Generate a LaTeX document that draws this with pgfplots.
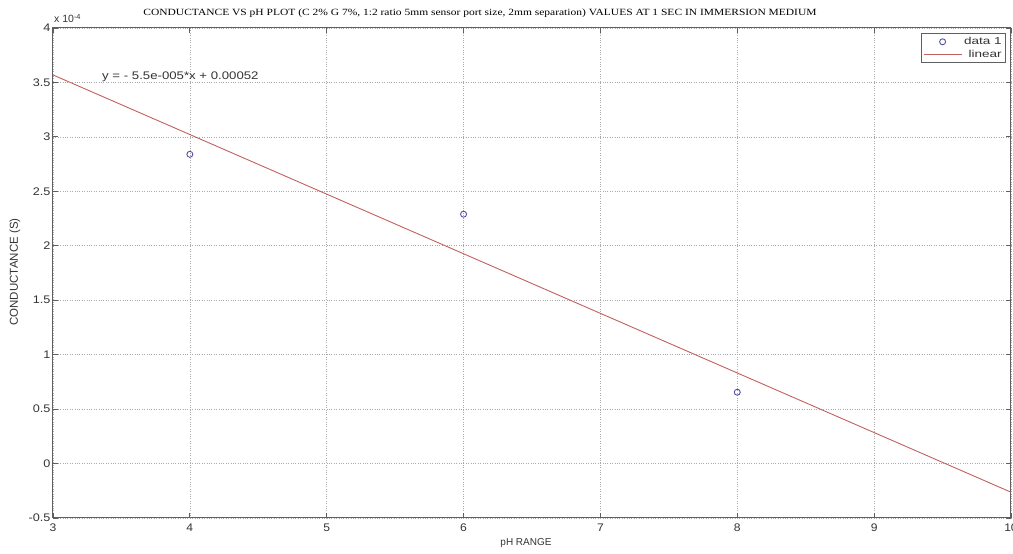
\documentclass[border=0pt]{standalone}
\usepackage{pgfplots}
\pgfplotsset{compat=1.18}
\usepackage{graphicx}
\usepackage{fontspec}
\setmainfont{Liberation Sans}
\newfontfamily\titlefont{Liberation Serif}
\definecolor{axgray}{RGB}{95,95,95}
\definecolor{gridgray}{RGB}{170,170,170}
\definecolor{mblue}{RGB}{80,80,170}
\definecolor{lred}{RGB}{195,95,95}
\pgfplotsset{
  mymarklegend/.style={legend image code/.code={\draw[mark repeat=2,mark phase=2,##1] plot coordinates {(0pt,0pt) (19pt,0pt) (38pt,0pt)};}},
  mylinelegend/.style={legend image code/.code={\draw[##1] (0pt,0pt) -- (38pt,0pt);}},
}
\begin{document}
\begin{tikzpicture}
\begin{axis}[
  scale only axis, width=958pt, height=490pt,
  at={(0,0)}, anchor=south west,
  xmin=3, xmax=10, ymin=-0.5, ymax=4,
  xtick={3,4,5,6,7,8,9,10},
  ytick={-0.5,0,0.5,1,1.5,2,2.5,3,3.5,4},
  yticklabels={-0.5,0,0.5,1,1.5,2,2.5,3,3.5,4},
  xticklabels={3,4,5,6,7,8,9,10},
  /pgf/number format/assume math mode=true,
  tick label style={font=\fontsize{11}{13}\selectfont, text=black!80},
  yticklabel style={xscale=1.15, inner sep=2pt},
  xticklabel style={yshift=-2pt, xscale=1.1},
  tick align=inside, major tick length=5pt,
  tick style={axgray, line width=0.8pt},
  axis line style={axgray, line width=1pt},
  grid=major,
  major grid style={gridgray, dotted, line width=0.7pt},
  legend style={at={(rel axis cs:1,1)}, anchor=north east, xshift=-5pt, yshift=-5pt,
    draw=axgray, line width=0.8pt, font=\fontsize{10}{11}\selectfont, text=black!80,
    inner sep=2pt, row sep=0pt},
  legend cell align=right,
]
\addplot[only marks, mark=o, mark size=3pt, mblue, line width=0.9pt, mymarklegend]
  coordinates {(4,2.84) (6,2.29) (8,0.655)};
\addlegendentry{\scalebox{1.35}[1]{data 1}}
\addplot[lred, line width=0.9pt, mylinelegend]
  coordinates {(3,3.569) (10,-0.263)};
\addlegendentry{\scalebox{1.35}[1]{linear}}
\end{axis}
\node[font=\titlefont\fontsize{9.5}{10}\selectfont, anchor=center, xscale=1.21] at (427pt,505pt)
  {CONDUCTANCE VS pH PLOT (C 2\% G 7\%, 1:2 ratio 5mm sensor port size, 2mm separation) VALUES AT 1 SEC IN IMMERSION MEDIUM};
\node[font=\fontsize{11}{13}\selectfont, text=black!80, anchor=west, xscale=1.2, inner sep=0pt] at (49pt,441pt) {y = - 5.5e-005*x + 0.00052};
\node[font=\fontsize{10.5}{12}\selectfont, text=black!80, anchor=base west, inner sep=0pt] at (1pt,495pt) {x 10\textsuperscript{-4}};
\node[font=\fontsize{11.5}{13}\selectfont, text=black!80, rotate=90] at (-38pt,246pt) {CONDUCTANCE (S)};
\node[font=\fontsize{10}{12}\selectfont, text=black!80] at (473pt,-25pt) {pH RANGE};
\pgfresetboundingbox
\path (-53pt,-36pt) rectangle (960pt,518pt);
\end{tikzpicture}
\end{document}
